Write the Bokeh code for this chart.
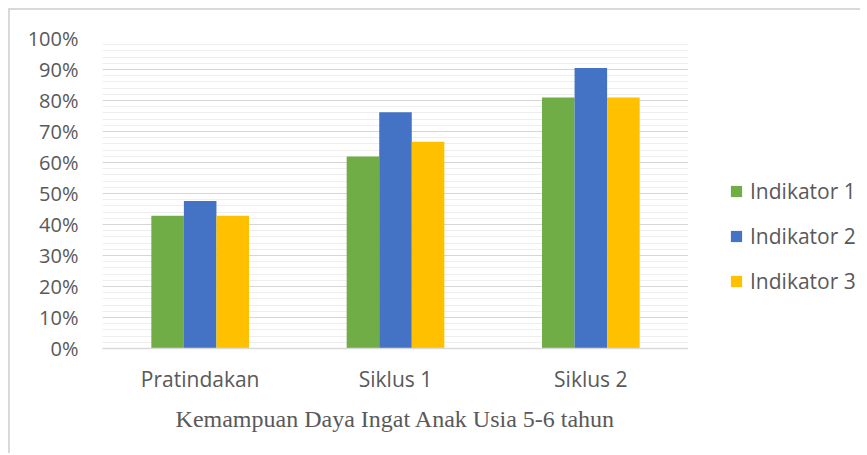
from bokeh.plotting import figure
from bokeh.models import (ColumnDataSource, FactorRange, Range1d, SingleIntervalTicker,
                          NumeralTickFormatter, Legend)
from bokeh.layouts import row
from bokeh.transform import dodge
from bokeh.embed import file_html
from bokeh.resources import INLINE

categories = ["Pratindakan", "Siklus 1", "Siklus 2"]
indikator1 = [0.4286, 0.6190, 0.8095]
indikator2 = [0.4762, 0.7619, 0.9048]
indikator3 = [0.4286, 0.6667, 0.8095]
series_names = ["Indikator 1", "Indikator 2", "Indikator 3"]
colors = ["#70ad47", "#4472c4", "#ffc000"]
x_title = "Kemampuan Daya Ingat Anak Usia 5-6 tahun"

source = ColumnDataSource(dict(cat=categories, i1=indikator1, i2=indikator2, i3=indikator3))

H = 443
WM, WL = 678, 172
p = figure(x_range=FactorRange(*categories, range_padding=0), y_range=Range1d(0, 1),
           width=WM, height=H, output_backend="svg", toolbar_location=None,
           min_border_left=92, min_border_right=0, min_border_top=28,
           min_border_bottom=H - 338)

bw = 1.0 / 6
for col, off, c in zip(["i1", "i2", "i3"], [-bw, 0, bw], colors):
    p.vbar(x=dodge("cat", off, range=p.x_range), top=col, width=bw, source=source,
           fill_color=c, line_color=None)

p.outline_line_color = None
p.background_fill_color = "white"

# y axis
p.yaxis.ticker = SingleIntervalTicker(interval=0.1, num_minor_ticks=5)
p.yaxis.formatter = NumeralTickFormatter(format="0%")
p.yaxis.axis_line_color = None
p.yaxis.major_tick_line_color = None
p.yaxis.minor_tick_line_color = None
p.yaxis.major_label_standoff = 18
p.yaxis.major_label_text_font = "Open Sans"
p.yaxis.major_label_text_font_size = "20px"
p.yaxis.major_label_text_color = "#595959"

p.ygrid.grid_line_color = "#d6d6d6"
p.ygrid.grid_line_width = 1
p.ygrid.minor_grid_line_color = "#eeeeee"
p.ygrid.minor_grid_line_width = 1
p.xgrid.grid_line_color = None

# x axis
p.xaxis.axis_line_color = "#d9d9d9"
p.xaxis.axis_line_width = 1.5
p.xaxis.major_tick_line_color = None
p.xaxis.minor_tick_line_color = None
p.xaxis.major_label_standoff = 10
p.xaxis.major_label_text_font = "Open Sans"
p.xaxis.major_label_text_font_size = "21px"
p.xaxis.major_label_text_color = "#595959"
p.xaxis.axis_label = x_title
p.xaxis.axis_label_text_font = "Liberation Serif"
p.xaxis.axis_label_text_font_size = "24px"
p.xaxis.axis_label_text_font_style = "normal"
p.xaxis.axis_label_text_color = "#595959"
p.xaxis.axis_label_standoff = 10

# legend panel (separate figure so the legend sits outside the bar area;
# its frame is aligned with the main frame by the row layout)
pl = figure(width=WL, height=H, output_backend="svg", toolbar_location=None,
            x_range=FactorRange(*categories), y_range=Range1d(0, 1),
            x_axis_location=None, y_axis_location=None,
            min_border_left=0, min_border_right=0, min_border_top=0, min_border_bottom=0)
pl.grid.visible = False
pl.outline_line_color = None
items = []
for col, off, c, name in zip(["i1", "i2", "i3"], [-bw, 0, bw], colors, series_names):
    r = pl.vbar(x=dodge("cat", off, range=pl.x_range), top=col, width=bw, source=source,
                fill_color=c, line_color=None, visible=False)
    items.append((name, [r]))

legend = Legend(items=items, location=(41, 53), orientation="vertical",
                padding=0, margin=0, spacing=17, label_height=28, glyph_width=14,
                glyph_height=14, label_standoff=7, border_line_color=None,
                background_fill_alpha=0, inactive_fill_alpha=0,
                label_text_font="Open Sans",
                label_text_font_size="21px", label_text_color="#595959")
pl.add_layout(legend, "center")

layout = row(p, pl, styles={"margin-left": "8px", "margin-top": "8px",
                            "border-left": "2px solid #d9d9d9",
                            "border-top": "2px solid #d9d9d9"})

open("out.html", "w").write(file_html(layout, INLINE))
